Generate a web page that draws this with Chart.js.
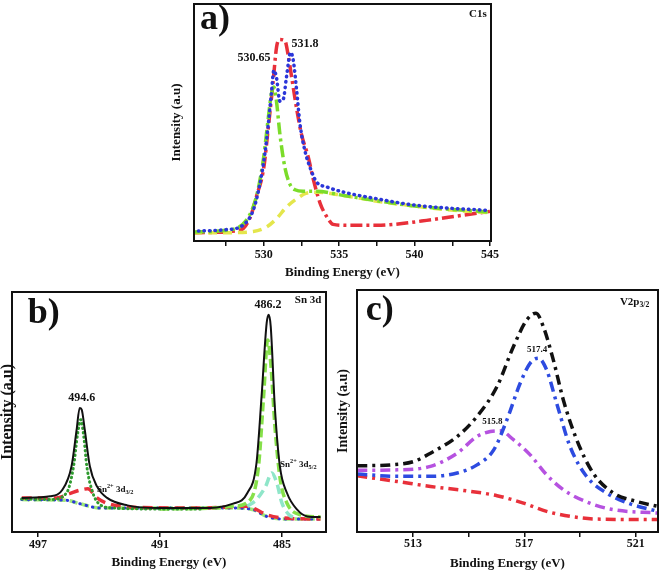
<!DOCTYPE html>
<html>
<head>
<meta charset="utf-8">
<script src="https://cdn.jsdelivr.net/npm/chart.js@4.4.1/dist/chart.umd.min.js"></script>
<style>
  body { margin: 0; background: #fff; width: 661px; height: 572px; position: relative; overflow: hidden; }
  canvas { position: absolute; }
</style>
</head>
<body>
<canvas id="chartA" width="370" height="290" style="left:150px;top:0"></canvas>
<canvas id="chartB" width="345" height="288" style="left:0;top:284px"></canvas>
<canvas id="chartC" width="331" height="288" style="left:330px;top:284px"></canvas>
<script>
// a) C1s
const aTicks = [527.5, 530, 532.5, 535, 537.5, 540, 542.5, 545];
const aLabels = [530, 535, 540, 545];
const aRedE = [525.3, 528.4, 529.1, 529.5, 530.0, 530.3, 530.6, 530.85, 531.05, 531.4, 531.6, 531.85, 532.2, 532.5, 532.95, 533.3, 533.75, 534.2, 534.6, 535.5, 537.5, 538.6, 540.8, 543.1, 545];
const aRedI = [3.5, 4.5, 10, 18.5, 31, 48, 66, 82, 85, 84.5, 79, 69, 55, 45, 35.4, 25.6, 15.7, 10, 7, 6.6, 6.6, 7, 8.7, 10.8, 12.5];
const aBlueE = [525.3, 527.5, 528.6, 529.3, 529.7, 530.07, 530.3, 530.5, 530.67, 530.84, 531.07, 531.3, 531.5, 531.78, 531.96, 532.18, 532.4, 532.73, 533.07, 533.5, 534.18, 535.3, 537.5, 539.7, 541.96, 545];
const aBlueI = [4.2, 4.8, 6.6, 13, 22.8, 36.8, 49.4, 62, 72, 69, 59, 60, 69, 79.6, 76, 63.5, 49.4, 38, 31, 24.9, 22.8, 20.6, 17.8, 15.4, 14, 12.9];
const aGreenE = [525.3, 527.5, 528.84, 529.5, 529.96, 530.3, 530.5, 530.67, 530.84, 531.07, 531.4, 531.73, 532.07, 532.62, 533.5, 535.3, 537.5, 539.7, 541.96, 545];
const aGreenI = [3.8, 4.5, 8.7, 18.5, 34, 52, 62, 65, 59, 45, 31, 24, 21.6, 21, 21, 19.2, 17, 15, 13.6, 12.2];
const aYellowE = [525.3, 527.5, 529.3, 530.18, 530.84, 531.5, 532.18, 532.84, 533.5, 535.3, 537.5, 539.7, 541.96, 545];
const aYellowI = [3.5, 3.5, 4, 5.9, 9.4, 14.3, 17.8, 20.2, 20.6, 19.2, 16.8, 15, 13.3, 11.9];

// b) Sn 3d
const bTicks = [497, 491, 485];
const bLabels = [497, 491, 485];
const bBlackE = [497.8, 496.4, 495.8, 495.35, 495.1, 494.95, 494.85, 494.7, 494.45, 494.1, 493.6, 492.6, 491, 489, 487.4, 486.7, 486.25, 486.0, 485.75, 485.65, 485.55, 485.35, 485.1, 484.75, 484.25, 483.75, 483.1];
const bBlackI = [14.2, 14.9, 17.6, 27.4, 42.6, 51.7, 51, 42.6, 27.4, 19, 14.2, 11.1, 10, 10, 11.8, 16.25, 28.75, 56.5, 87, 90.5, 85.7, 52.4, 27.4, 16.25, 9.3, 6.5, 6.25];
const bDotE = [497.8, 496.4, 495.6, 495.25, 495.05, 494.9, 494.75, 494.6, 494.3, 493.95, 493.3, 491, 489];
const bDotI = [13.75, 13.5, 16.25, 27.4, 41, 46.8, 39.9, 27.4, 16.25, 11.4, 10, 9.6, 9.6];
const bLimeE = [491, 489, 487.4, 486.55, 486.15, 485.9, 485.7, 485.55, 485.33, 485.08, 484.75, 484.1, 483.1];
const bLimeI = [9.6, 9.8, 10.7, 13.5, 27.4, 56.5, 80, 70.4, 42.6, 21.8, 12, 7.2, 6.25];
const bRedE = [497.8, 496.1, 495.45, 494.95, 494.55, 494.1, 493.6, 492.3, 489, 486.7, 486.25, 485.75, 484.9, 483.1];
const bRedI = [14.2, 14.2, 16, 17.4, 18, 14.2, 12, 10.3, 10, 10.7, 9.3, 7.2, 5.8, 5.4];
const bAquaE = [486.7, 486.25, 485.8, 485.5, 485.25, 485.0, 484.65, 484.25];
const bAquaI = [10.7, 13.5, 19, 24.6, 20.4, 12.1, 7.2, 5.8];
const bBaseE = [497.8, 495.6, 494.95, 493.95, 487.4, 486.4, 485.75, 484.9, 483.1];
const bBaseI = [13.5, 13.2, 11.8, 10, 10, 9.3, 6.5, 5.4, 5.4];

// c) V2p3/2
const cTicks = [513, 515, 517, 519, 521];
const cLabels = [513, 517, 521];
const cBlackE = [511.0, 512.2, 513.04, 513.63, 514.59, 515.3, 516.02, 516.61, 517.09, 517.42, 517.68, 518.04, 518.4, 518.88, 519.47, 520.19, 521.02, 521.8];
const cBlackI = [26.6, 27, 28.4, 31.7, 38.4, 46.5, 58.5, 74.6, 85.3, 88, 82.6, 69.2, 53.1, 37.1, 23.7, 15.7, 12.3, 10.3];
const cBlueE = [511.0, 512.44, 513.63, 514.59, 515.3, 515.9, 516.37, 516.85, 517.21, 517.5, 517.8, 518.16, 518.64, 519.23, 519.95, 520.78, 521.8];
const cBlueI = [23.3, 22.4, 22.4, 23.7, 27, 33, 45, 59.8, 67.9, 69.9, 65.2, 51.8, 34.4, 22.4, 15.7, 11.4, 8.3];
const cVioletE = [511.0, 512.44, 513.63, 514.59, 515.3, 515.78, 516.13, 516.61, 517.21, 517.8, 518.4, 519.35, 520.19, 521.8];
const cVioletI = [24.8, 25, 26.4, 31.7, 38.4, 40.4, 40.7, 37.1, 31, 23, 17, 11.6, 9, 7.6];
const cRedE = [511.0, 512.44, 513.63, 514.82, 516.02, 516.97, 517.8, 518.64, 519.59, 521.8];
const cRedI = [22.6, 20.3, 18.3, 16.7, 14.6, 11.6, 8.3, 6.3, 5.2, 5];

const serif = "'Liberation Serif', 'Times New Roman', serif";
Chart.defaults.font.family = serif;
Chart.defaults.color = '#111';

// kader rond het plotvlak
const framePlugin = {
    id: 'frame',
    afterDatasetsDraw(chart) {
        const a = chart.chartArea, ctx = chart.ctx;
        ctx.save();
        ctx.strokeStyle = '#111';
        ctx.lineWidth = 2;
        ctx.strokeRect(a.left, a.top, a.right - a.left, a.bottom - a.top);
        ctx.restore();
    }
};

// teksten in datacoordinaten
function makeNotes(items) {
    return {
        id: 'notes',
        afterDatasetsDraw(chart) {
            const ctx = chart.ctx, xs = chart.scales.x, ys = chart.scales.y;
            items.forEach(it => {
                const parts = it.parts || [{ t: it.text }];
                const fontFor = p => 'bold ' + ((p.sub || p.sup) ? it.size * 0.7 : it.size) + 'px ' + serif;
                let w = 0;
                parts.forEach(p => { ctx.font = fontFor(p); w += ctx.measureText(p.t).width; });
                let x = xs.getPixelForValue(it.x);
                const y = ys.getPixelForValue(it.y);
                if (it.align !== 'left') x -= w / 2;
                ctx.save();
                ctx.fillStyle = '#111';
                ctx.textBaseline = 'middle';
                ctx.textAlign = 'left';
                parts.forEach(p => {
                    ctx.font = fontFor(p);
                    const dy = p.sup ? -it.size * 0.4 : (p.sub ? it.size * 0.3 : 0);
                    ctx.fillText(p.t, x, y + dy);
                    x += ctx.measureText(p.t).width;
                });
                ctx.restore();
            });
        }
    };
}

function line(xs, ys, color, width, dash, cap) {
    return {
        data: xs.map((x, i) => ({ x: x, y: ys[i] })),
        borderColor: color,
        borderWidth: width,
        borderDash: dash,
        borderCapStyle: cap || 'butt',
        pointRadius: 0,
        fill: false,
        cubicInterpolationMode: 'monotone'
    };
}

function makeChart(id, datasets, cfg) {
    return new Chart(document.getElementById(id), {
        type: 'line',
        data: { datasets: datasets },
        options: {
            responsive: false,
            animation: false,
            devicePixelRatio: 1,
            layout: { padding: cfg.pad },
            plugins: { legend: { display: false }, tooltip: { enabled: false } },
            scales: {
                x: {
                    type: 'linear',
                    min: cfg.xMin,
                    max: cfg.xMax,
                    reverse: !!cfg.reverse,
                    afterBuildTicks: s => { s.ticks = cfg.ticks.map(v => ({ value: v })); },
                    afterFit: s => { s.height = cfg.xH; },
                    ticks: {
                        callback: v => cfg.labels.includes(v) ? String(v) : '',
                        font: { size: 12, weight: 'bold' },
                        padding: cfg.tickPad,
                        maxRotation: 0,
                        autoSkip: false
                    },
                    grid: { drawOnChartArea: false, tickLength: 5, color: '#111', lineWidth: 1.5 },
                    border: { display: false },
                    title: {
                        display: true,
                        text: 'Binding Energy (eV)',
                        font: { size: 13, weight: 'bold' },
                        padding: { top: 0, bottom: cfg.xTitlePad }
                    }
                },
                y: {
                    min: 0,
                    max: cfg.yMax,
                    afterFit: s => { s.width = cfg.yW; },
                    ticks: { display: false },
                    grid: { display: false },
                    border: { display: false },
                    title: {
                        display: true,
                        text: 'Intensity (a.u)',
                        font: { size: cfg.ySize, weight: 'bold', lineHeight: cfg.yLH },
                        padding: { top: 0, bottom: 0 }
                    }
                }
            }
        },
        plugins: [framePlugin, makeNotes(cfg.notes)]
    });
}

const chartA = makeChart('chartA', [
    line(aBlueE, aBlueI, '#2b36d9', 3.5, [0.5, 5], 'round'),
    line(aGreenE, aGreenI, '#7bdc2a', 3.5, [12, 4, 3, 4]),
    line(aYellowE, aYellowI, '#e4e64c', 3.5, [9, 6]),
    line(aRedE, aRedI, '#e8303a', 3.5, [12, 4, 3, 4])
], {
    xMin: 525.37, xMax: 545.07, yMax: 100,
    ticks: aTicks, labels: aLabels,
    pad: { left: 19, right: 29, top: 4, bottom: 3 },
    xH: 46, yW: 25, tickPad: 2, xTitlePad: 7, ySize: 13, yLH: 1.2,
    notes: [
        { text: '530.65', x: 529.35, y: 77.2, size: 12 },
        { text: '531.8', x: 532.73, y: 83.1, size: 12 },
        { text: 'C1s', x: 544.2, y: 95.8, size: 11 },
        { text: 'a)', x: 526.76, y: 93.2, size: 36 }
    ]
});

const chartB = makeChart('chartB', [
    line(bBlackE, bBlackI, '#111', 2, []),
    line(bDotE, bDotI, '#2f9a2f', 3, [0.5, 4], 'round'),
    line(bLimeE, bLimeI, '#86e04a', 3.5, [9, 4]),
    line(bAquaE, bAquaI, '#8fe6c9', 3.5, [9, 5]),
    line(bRedE, bRedI, '#e8303a', 3.5, [10, 6]),
    line(bBaseE, bBaseI, '#2b36d9', 3, [0.5, 6], 'round'),
    line(bBaseE, bBaseI, '#9fe87a', 3.5, [8, 4])
], {
    xMin: 482.83, xMax: 498.28, yMax: 100, reverse: true,
    ticks: bTicks, labels: bLabels,
    pad: { left: 0, right: 19, top: 8, bottom: 0 },
    xH: 40, yW: 12, tickPad: 1, xTitlePad: 2, ySize: 16, yLH: 0.95,
    notes: [
        { text: '494.6', x: 494.85, y: 56, size: 12 },
        { text: '486.2', x: 485.68, y: 94.7, size: 12 },
        { text: 'Sn 3d', x: 483.71, y: 96.8, size: 11 },
        { parts: [{ t: 'Sn' }, { t: '2+', sup: true }, { t: ' 3d' }, { t: '3/2', sub: true }], x: 494.1, y: 17.6, size: 9, align: 'left' },
        { parts: [{ t: 'Sn' }, { t: '2+', sup: true }, { t: ' 3d' }, { t: '5/2', sub: true }], x: 485.09, y: 28, size: 9, align: 'left' },
        { text: 'b)', x: 496.72, y: 91, size: 36 }
    ]
});

const chartC = makeChart('chartC', [
    line(cBlackE, cBlackI, '#111', 3.5, [10, 5, 3, 5]),
    line(cBlueE, cBlueI, '#2d4be0', 3.5, [10, 5, 3, 5]),
    line(cVioletE, cVioletI, '#b652e0', 3.5, [10, 5, 3, 5]),
    line(cRedE, cRedI, '#e8303a', 3.5, [10, 5, 3, 5])
], {
    xMin: 510.99, xMax: 521.8, yMax: 97.3,
    ticks: cTicks, labels: cLabels,
    pad: { left: 5, right: 3, top: 6, bottom: 0 },
    xH: 40, yW: 22, tickPad: 0, xTitlePad: 1, ySize: 14, yLH: 1.15,
    notes: [
        { text: '517.4', x: 517.46, y: 73.2, size: 9 },
        { text: '515.8', x: 515.85, y: 44.3, size: 9 },
        { parts: [{ t: 'V2p' }, { t: '3/2', sub: true }], x: 520.96, y: 92.5, size: 11 },
        { text: 'c)', x: 511.81, y: 88.9, size: 36 }
    ]
});
</script>
</body>
</html>
